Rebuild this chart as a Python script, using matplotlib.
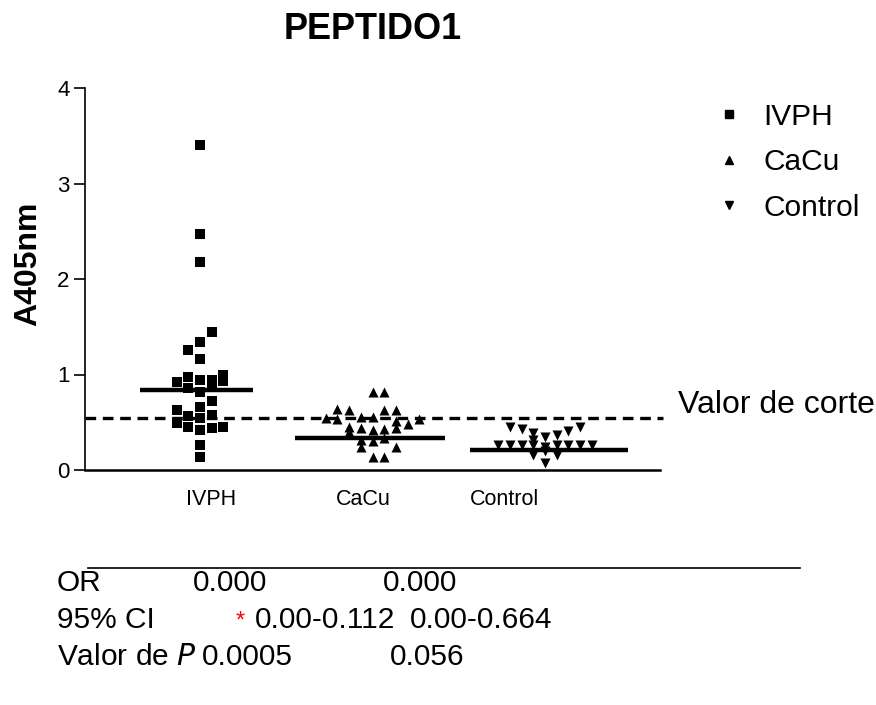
import matplotlib
matplotlib.use("Agg")
import matplotlib.pyplot as plt
from matplotlib.lines import Line2D
import numpy as np

plt.rcParams['font.family'] = ['Liberation Sans', 'DejaVu Sans']

# ---------------- data ----------------
groups = ["IVPH", "CaCu", "Control"]
markers = ["s", "^", "v"]

ivph_values = [3.40, 2.47, 2.18, 1.45, 1.34, 1.26, 1.16,
               0.92, 0.97, 0.94, 0.94, 0.99, 0.93,
               0.86, 0.82, 0.89, 0.72, 0.66, 0.63, 0.57, 0.58,
               0.49, 0.54, 0.42, 0.45, 0.44, 0.45, 0.26, 0.14]
ivph_slots = [0, 0, 0, 1, 0, -1, 0,
              -2, -1, 0, 1, 2, 2,
              -1, 0, 1, 1, 0, -2, -1, 1,
              -2, 0, 0, -1, 1, 2, 0, 0]

cacu_values = [0.82, 0.82,
               0.64, 0.63, 0.63, 0.63,
               0.54, 0.53, 0.56, 0.56, 0.51, 0.48, 0.53,
               0.45, 0.40, 0.44, 0.42, 0.43, 0.44,
               0.33, 0.31, 0.30, 0.24, 0.24, 0.14, 0.14]
cacu_slots = [0, 1,
              -3, -2, 1, 2,
              -4, -3, -1, 0, 2, 3, 4,
              -2, -2, -1, 0, 1, 2,
              1, -1, 0, -1, 2, 0, 1]

control_values = [0.45, 0.43, 0.45, 0.41, 0.37, 0.35, 0.39, 0.31,
                  0.26, 0.26, 0.26, 0.26, 0.26, 0.26, 0.26, 0.26, 0.24,
                  0.16, 0.16, 0.20, 0.07]
control_slots = [-3, -2, 3, 2, 1, 0, -1, -1,
                 -4, -3, -2, -1, 1, 2, 3, 4, 0,
                 -1, 1, 0, 0]

center_lines = [0.84, 0.34, 0.21]
cutoff = 0.54

yticks = [0, 1, 2, 3, 4]
title = "PEPTIDO1"
ylabel = "A405nm"
cutoff_label = "Valor de corte"

or_values = ["0.000", "0.000"]
ci_values = ["0.00-0.112", "0.00-0.664"]
p_values = ["0.0005", "0.056"]

# ---------------- layout ----------------
W, H = 876, 705
fig = plt.figure(figsize=(W / 100, H / 100), dpi=100)
ax = fig.add_axes([85 / W, 1 - 470 / H, (660 - 85) / W, (470 - 88) / H])

step = 11.7 / 172.5  # jitter step in category units
line_spans = [(-0.348, 0.307), (-0.449, 0.420), (-0.435, 0.480)]
label_pos = [1.064, 1.945, 2.768]

all_values = [ivph_values, cacu_values, control_values]
all_slots = [ivph_slots, cacu_slots, control_slots]
handles = []
for i, (g, m, vals, slots) in enumerate(zip(groups, markers, all_values, all_slots)):
    pos = i + 1
    xs = pos + np.array(slots) * step
    ax.scatter(xs, vals, marker=m, s=52, color="black", linewidths=0, zorder=3)
    lo, hi = line_spans[i]
    ax.plot([pos + lo, pos + hi], [center_lines[i]] * 2, color="black", lw=3.2,
            solid_capstyle="butt", zorder=2)
    handles.append(Line2D([], [], marker=m, color="black", linestyle="none",
                          markersize=5.5, label=g))

ax.plot([1 / 3, 3 + 2 / 3 + 0.02], [cutoff, cutoff], color="black", lw=2.4,
        linestyle=(0, (3.2, 2.0)), clip_on=False, zorder=2)

ax.set_xlim(1 / 3, 3 + 2 / 3)
ax.set_ylim(0, 4)
ax.set_xticks(label_pos)
ax.set_xticklabels(groups, fontsize=15.5)
ax.tick_params(axis="x", length=0, pad=14)
ax.set_yticks(yticks)
ax.set_yticklabels([str(t) for t in yticks], fontsize=16)
ax.tick_params(axis="y", length=8, width=1.2, pad=3)
ax.spines["top"].set_visible(False)
ax.spines["right"].set_visible(False)
ax.spines["left"].set_linewidth(1.2)
ax.spines["bottom"].set_linewidth(1.8)
ax.set_ylabel(ylabel, fontsize=23, fontweight="bold")
ax.yaxis.set_label_coords(-0.072, 0.54)

fig.text(372.5 / W, 1 - 39 / H, title, fontsize=26, fontweight="bold",
         ha="center", va="baseline")

fig.text(678 / W, 1 - 405 / H, cutoff_label, fontsize=23, ha="left", va="center")

leg = fig.legend(handles=handles, loc="upper left", bbox_to_anchor=(684 / W, 1 - 76 / H),
                 frameon=False, fontsize=21.5, handlelength=1.2, handletextpad=0.55,
                 labelspacing=0.58)

# bottom statistics block
fig.add_artist(Line2D([88 / W, 800 / W], [1 - 568 / H, 1 - 568 / H], color="black", lw=1.2))
fs = 21.5
row_y = [583, 620, 657]
fig.text(57 / W, 1 - row_y[0] / H, "OR", fontsize=fs, va="center")
fig.text(193 / W, 1 - row_y[0] / H, or_values[0], fontsize=fs, va="center")
fig.text(383 / W, 1 - row_y[0] / H, or_values[1], fontsize=fs, va="center")
fig.text(57 / W, 1 - row_y[1] / H, "95% CI", fontsize=fs, va="center")
fig.text(240 / W, 1 - (row_y[1] + 2) / H, "*", fontsize=17, color="red", va="center", ha="center")
fig.text(255 / W, 1 - row_y[1] / H, ci_values[0], fontsize=fs, va="center")
fig.text(410 / W, 1 - row_y[1] / H, ci_values[1], fontsize=fs, va="center")
fig.text(57 / W, 1 - row_y[2] / H, "Valor de $\\mathit{P}$", fontsize=fs, va="center")
fig.text(202 / W, 1 - row_y[2] / H, p_values[0], fontsize=fs, va="center")
fig.text(390 / W, 1 - row_y[2] / H, p_values[1], fontsize=fs, va="center")

fig.savefig("out.png", dpi=100)
